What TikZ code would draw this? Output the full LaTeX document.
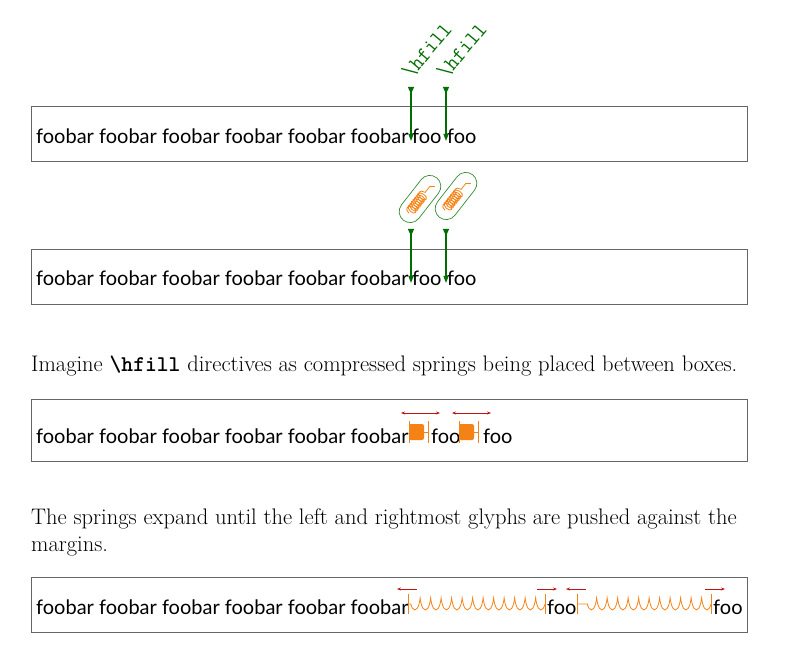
\documentclass[tikz,border=0pt]{standalone}
\usepackage{fontspec}
\setsansfont{Lato}
\usetikzlibrary{decorations.pathmorphing,arrows.meta}
\definecolor{dgreen}{RGB}{0,110,0}
\definecolor{sorange}{RGB}{245,130,20}
\definecolor{dred}{RGB}{190,20,20}
\tikzset{
 x=1pt,y=1pt,
 frame/.style={draw=black!60,line width=0.9pt},
 sf/.style={font=\sffamily\fontsize{20}{24}\selectfont,inner sep=0pt,anchor=base west},
 rm/.style={font=\fontsize{22.5}{27}\selectfont,inner sep=0pt,anchor=base west},
 hfl/.style={dgreen,rotate=50,font=\ttfamily\fontsize{21}{24}\selectfont,anchor=base west,inner sep=0pt},
 hf/.style={dgreen,line width=1.2pt,{Triangle[width=6pt,length=7pt,reversed]}-{Triangle[width=5pt,length=7pt]}},
 coilsty/.style 2 args={sorange,line width=0.8pt,decorate,decoration={coil,aspect=#1,segment length=#2,amplitude=6pt}},
 rarr/.style={dred,line width=0.9pt,-{Stealth[length=4pt]}},
 darr/.style={dred,line width=0.9pt,{Stealth[length=4pt]}-{Stealth[length=4pt]}},
 bar/.style={sorange,line width=1pt},
}
\begin{document}
\begin{tikzpicture}
\useasboundingbox (0,-660) rectangle (800,0);
% box 1
\draw[frame] (31,-106) rectangle (747,-161);
\node[sf] (t1) at (36,-144) {foobar foobar foobar foobar foobar foobar};
\node[sf] (f1a) at (412,-144) {foo};
\node[sf] (f1b) at (447,-144) {foo};
\coordinate (a1s) at (411,-87); \coordinate (a1e) at (411,-141);
\coordinate (b1s) at (446,-87); \coordinate (b1e) at (446,-141);
\draw[hf] (a1s) -- (a1e);
\draw[hf] (b1s) -- (b1e);
\node[hfl] (h1) at (411,-80) {\textbackslash hfill};
\node[hfl] (h2) at (446,-80) {\textbackslash hfill};
% box 2
\draw[frame] (31,-249) rectangle (747,-304);
\node[sf] (t2) at (36,-286) {foobar foobar foobar foobar foobar foobar};
\node[sf] (f2a) at (412,-286) {foo};
\node[sf] (f2b) at (447,-286) {foo};
\coordinate (a2s) at (411,-229); \coordinate (a2e) at (411,-283);
\coordinate (b2s) at (446,-229); \coordinate (b2e) at (446,-283);
\draw[hf] (a2s) -- (a2e);
\draw[hf] (b2s) -- (b2e);
\foreach \cx/\cy/\n in {420/-199/c1,456/-196/c2}{
 \begin{scope}[shift={(\cx,\cy)},rotate=52]
  \node[draw=dgreen!80,line width=0.7pt,rounded corners=11pt,minimum width=54pt,minimum height=22pt,inner sep=0pt,transform shape] (\n) at (0,0) {};
  \draw[sorange,line width=0.8pt,decorate,decoration={coil,aspect=0.6,segment length=2.4pt,amplitude=5pt}] (-18,0) -- (10,0);
  \draw[sorange,line width=0.8pt] (10,0) -- (16,0) -- (19,-4);
 \end{scope}}
% text line
\node[rm] (p1) at (31,-371) {Imagine \texttt{\textbf{\textbackslash hfill}} directives as compressed springs being placed between boxes.};
% box 3
\draw[frame] (31,-399) rectangle (747,-461);
\node[sf] (t3) at (36,-443) {foobar foobar foobar foobar foobar foobar};
\node[sf] (f3a) at (431,-443) {foo};
\node[sf] (f3b) at (483,-443) {foo};
\foreach \xa/\n in {408/s1,458/s2}{
 \fill[sorange,rounded corners=2pt] (\xa+1,-424) rectangle (\xa+16,-440);
 \draw[bar] (\xa+1,-421) -- (\xa+1,-443);
 \draw[bar] (\xa+20,-421) -- (\xa+20,-443);
 \draw[sorange,line width=0.8pt] (\xa+15,-432) -- (\xa+20,-432);
}
\coordinate (d1a) at (401,-413); \coordinate (d1b) at (440,-413);
\coordinate (d2a) at (452,-413); \coordinate (d2b) at (491,-413);
\draw[darr] (d1a) -- (d1b);
\draw[darr] (d2a) -- (d2b);
% paragraph
\node[rm] (p2) at (31,-524) {The springs expand until the left and rightmost glyphs are pushed against the};
\node[rm] (p3) at (31,-551) {margins.};
% box 4
\draw[frame] (31,-577) rectangle (747,-632);
\node[sf] (t4) at (36,-614) {foobar foobar foobar foobar foobar foobar};
\node[sf] (f4a) at (547,-614) {foo};
\node[sf] (f4b) at (713,-614) {foo};
\foreach \xa/\xb in {408/545,577/711}{
 \draw[bar] (\xa,-594) -- (\xa,-614);
 \draw[bar] (\xb,-594) -- (\xb,-614);
 \draw[coilsty={0.25}{10.5pt}] (\xb,-604) -- (\xa,-604);
}
\coordinate (l1a) at (417,-589); \coordinate (l1b) at (397,-589);
\coordinate (r1a) at (537,-589); \coordinate (r1b) at (557,-589);
\coordinate (l2a) at (586,-589); \coordinate (l2b) at (566,-589);
\coordinate (r2a) at (705,-589); \coordinate (r2b) at (725,-589);
\draw[rarr] (l1a) -- (l1b);
\draw[rarr] (r1a) -- (r1b);
\draw[rarr] (l2a) -- (l2b);
\draw[rarr] (r2a) -- (r2b);
\end{tikzpicture}
\end{document}
